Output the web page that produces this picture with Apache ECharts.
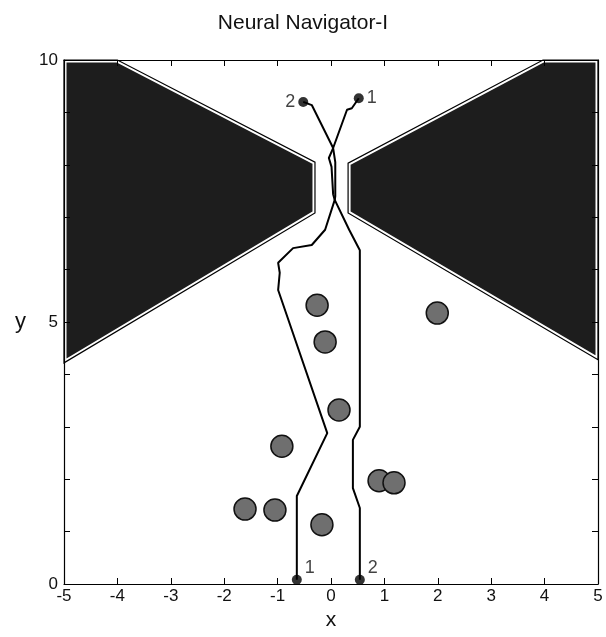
<!DOCTYPE html>
<html lang="en">
<head>
    <meta charset="UTF-8">
    <title>Neural Navigator-I</title>
    <script src="https://cdn.jsdelivr.net/npm/echarts@6/dist/echarts.min.js"></script>
    <style>
        html, body { margin: 0; padding: 0; background: #fff; }
        #chart { width: 606px; height: 637px; }
    </style>
</head>
<body>
    <div id="chart"></div>
    <script>
        // walls (polygon corners, x/y units)
        var leftWall = [[-5, 10], [-4.0, 10], [-0.3, 8.05], [-0.3, 7.08], [-5, 4.22]];
        var rightWall = [[5, 10], [3.97, 10], [0.32, 8.03], [0.32, 7.08], [5, 4.28]];

        // round obstacles (centres)
        var obstacles = [
            [-0.26, 5.32], [-0.11, 4.62], [0.15, 3.32], [1.99, 5.17], [-0.92, 2.63],
            [-1.61, 1.43], [-1.05, 1.41], [-0.17, 1.13], [0.90, 1.97], [1.18, 1.93]
        ];

        // the two robot trajectories
        var path1 = [
            [-0.64, 0.08], [-0.64, 1.68], [-0.07, 2.88], [-0.99, 5.61], [-0.96, 5.94],
            [-0.99, 6.13], [-0.71, 6.41], [-0.36, 6.47], [-0.11, 6.76], [0.07, 7.33],
            [0.08, 7.4], [0.08, 8.05], [0.04, 8.32], [0.30, 9.05], [0.39, 9.08], [0.52, 9.27]
        ];
        var path2 = [
            [0.54, 0.08], [0.54, 1.45], [0.41, 1.83], [0.41, 2.75], [0.54, 3.0],
            [0.54, 6.37], [0.34, 6.76], [0.07, 7.33], [0.04, 7.44], [0.01, 7.96],
            [-0.04, 8.13], [0.04, 8.32], [-0.36, 9.14], [-0.52, 9.20]
        ];

        // start / goal markers
        var endPoints = [[-0.64, 0.08], [0.54, 0.08], [0.52, 9.27], [-0.52, 9.20]];
        var endLabels = ['1', '2', '1', '2'];

        var walls = [leftWall, rightWall];
        var font = 'Liberation Sans, Arial, sans-serif';

        var chart = echarts.init(document.getElementById('chart'));

        var tickStyle = { show: true, inside: true, length: 6, lineStyle: { color: '#000', width: 1 } };
        var lineStyle = { show: true, onZero: false, lineStyle: { color: '#000', width: 1.2 } };

        var option = {
            animation: false,
            backgroundColor: '#fff',
            title: {
                text: 'Neural Navigator-I',
                left: 'center',
                top: 8,
                textStyle: { fontFamily: font, fontSize: 21, fontWeight: 'normal', color: '#111' }
            },
            grid: { left: 64, right: 8, top: 60, bottom: 53 },
            xAxis: [
                {
                    type: 'value', min: -5, max: 5, interval: 1, position: 'bottom', z: 10,
                    name: 'x', nameLocation: 'middle', nameGap: 25,
                    nameTextStyle: { fontFamily: font, fontSize: 21, color: '#111' },
                    axisLine: lineStyle, axisTick: tickStyle, splitLine: { show: false },
                    axisLabel: { fontFamily: font, fontSize: 17, color: '#111', margin: 4 }
                },
                {
                    type: 'value', min: -5, max: 5, interval: 1, position: 'top', z: 10,
                    axisLine: lineStyle, axisTick: tickStyle, splitLine: { show: false },
                    axisLabel: { show: false }
                }
            ],
            yAxis: [
                {
                    type: 'value', min: 0, max: 10, interval: 1, position: 'left', z: 10,
                    name: 'y', nameLocation: 'middle', nameGap: 38, nameRotate: 0,
                    nameTextStyle: { fontFamily: font, fontSize: 22, color: '#111' },
                    axisLine: lineStyle, axisTick: tickStyle, splitLine: { show: false },
                    axisLabel: {
                        fontFamily: font, fontSize: 17, color: '#111', margin: 6,
                        formatter: function (v) { return v % 5 === 0 ? String(v) : ''; }
                    }
                },
                {
                    type: 'value', min: 0, max: 10, interval: 1, position: 'right', z: 10,
                    axisLine: lineStyle, axisTick: tickStyle, splitLine: { show: false },
                    axisLabel: { show: false }
                }
            ],
            series: [
                {
                    type: 'custom',
                    data: walls.map(function (w) { return w[0]; }),
                    renderItem: function (params, api) {
                        var pts = walls[params.dataIndex].map(function (p) { return api.coord(p); });
                        return {
                            type: 'group',
                            children: [
                                { type: 'polygon', shape: { points: pts }, style: { fill: '#1d1d1d', stroke: '#fff', lineWidth: 5 } },
                                { type: 'polygon', shape: { points: pts }, style: { fill: null, stroke: '#000', lineWidth: 1.2 } }
                            ]
                        };
                    },
                    silent: true
                },
                {
                    type: 'scatter',
                    data: obstacles,
                    symbol: 'circle',
                    symbolSize: 22,
                    itemStyle: { color: '#6f6f6f', borderColor: '#111', borderWidth: 1.5, opacity: 1 },
                    silent: true
                },
                {
                    type: 'line',
                    data: path1,
                    showSymbol: false,
                    lineStyle: { color: '#000', width: 2 },
                    silent: true
                },
                {
                    type: 'line',
                    data: path2,
                    showSymbol: false,
                    lineStyle: { color: '#000', width: 2 },
                    silent: true
                },
                {
                    type: 'scatter',
                    z: 5,
                    data: endPoints.map(function (p, i) {
                        var top = p[1] > 5;
                        var toLeft = top && p[0] < 0;
                        return {
                            value: p,
                            label: {
                                show: true,
                                formatter: endLabels[i],
                                position: toLeft ? 'left' : 'right',
                                distance: 3,
                                offset: top ? [0, 0] : [0, -12]
                            }
                        };
                    }),
                    symbol: 'circle',
                    symbolSize: 10,
                    itemStyle: { color: '#000' },
                    label: { fontFamily: font, fontSize: 18, color: '#111' },
                    silent: true
                }
            ]
        };

        chart.setOption(option);
    </script>
</body>
</html>
